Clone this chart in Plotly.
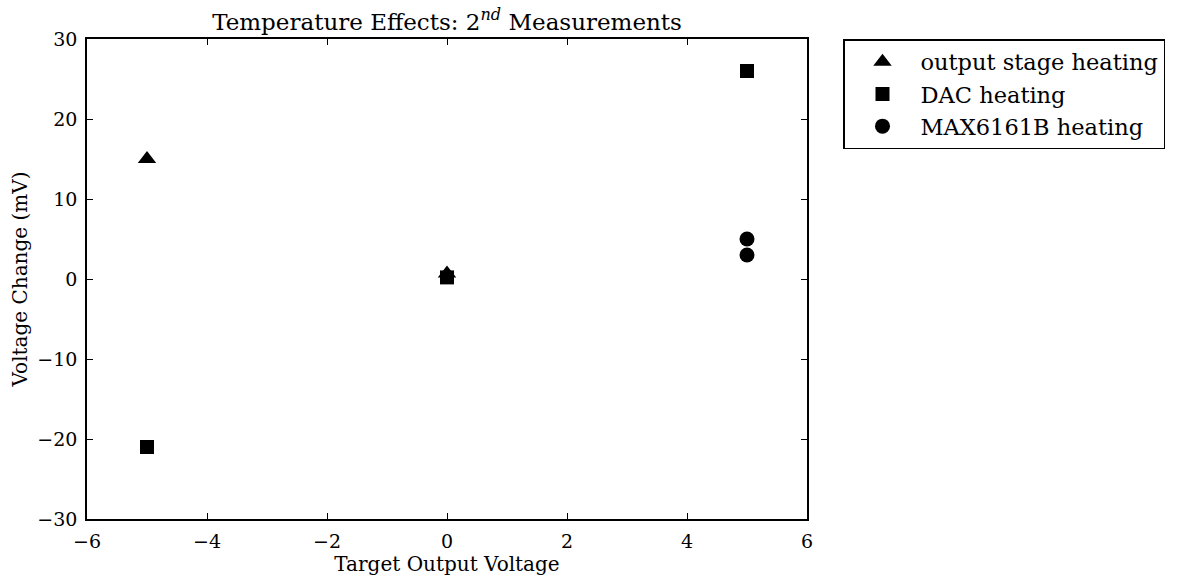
import plotly.graph_objects as go

# Data
output_stage_x = [-5, 0]
output_stage_y = [15, 0.7]
dac_x = [-5, 0, 5]
dac_y = [-21, 0.2, 26]
max_x = [5, 5]
max_y = [5, 3]

FONT = "DejaVu Serif"

fig = go.Figure()
fig.add_trace(go.Scatter(x=output_stage_x, y=output_stage_y, mode="markers",
                         name="output stage heating", legendgroup="a",
                         marker=dict(symbol="triangle-up", size=16, color="black")))
fig.add_trace(go.Scatter(x=dac_x, y=dac_y, mode="markers", name="DAC heating",
                         legendgroup="b",
                         marker=dict(symbol="square", size=14, color="black")))
fig.add_trace(go.Scatter(x=max_x, y=max_y, mode="markers", name="MAX6161B heating",
                         legendgroup="c",
                         marker=dict(symbol="circle", size=15, color="black")))

axis_common = dict(showgrid=False, zeroline=False, showline=True, linecolor="black",
                   linewidth=1.5, mirror="ticks", ticks="inside", ticklen=6,
                   tickwidth=1, tickcolor="black", ticklabelstandoff=4,
                   automargin=False,
                   tickfont=dict(family=FONT, size=19, color="black"))

fig.update_layout(
    width=1184, height=584,
    margin=dict(l=87, r=377, t=39, b=65),
    paper_bgcolor="white", plot_bgcolor="white",
    font=dict(family=FONT, color="black"),
    title=dict(text="Temperature Effects: 2<sup><i>nd</i></sup> Measurements",
               x=(87 + 360) / 1184, xanchor="center", y=1 - 30 / 584, yanchor="bottom",
               font=dict(family=FONT, size=23, color="black")),
    xaxis=dict(range=[-6, 6], tickvals=[-6, -4, -2, 0, 2, 4, 6],
               title=dict(text="Target Output Voltage", font=dict(family=FONT, size=20),
                          standoff=4),
               **axis_common),
    yaxis=dict(range=[-30, 30], tickvals=[-30, -20, -10, 0, 10, 20, 30],
               title=dict(text="Voltage Change (mV)", font=dict(family=FONT, size=20),
                          standoff=4),
               **axis_common),
    legend=dict(x=1.05, y=1, xanchor="left", yanchor="top",
                bordercolor="black", borderwidth=1.5, bgcolor="white",
                font=dict(family=FONT, size=22.5, color="black"),
                itemwidth=66, tracegroupgap=0),
    showlegend=True,
)

fig.write_html("out.html")
